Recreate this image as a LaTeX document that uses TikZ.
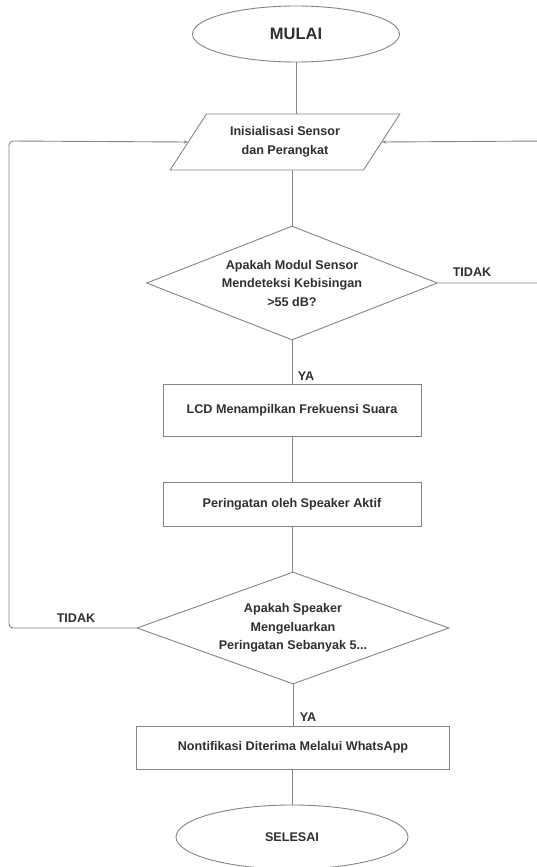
\documentclass[tikz,border=0pt]{standalone}
\usepackage{fontspec}
\setmainfont{Liberation Sans}
\usetikzlibrary{shapes.geometric,arrows.meta}
\definecolor{ln}{HTML}{858585}
\definecolor{tx}{HTML}{303030}
\begin{document}
\begin{tikzpicture}[x=1pt,y=-1pt,
  base/.style={draw=ln, line width=0.9pt, text=tx, inner sep=0pt, align=center,
    font=\bfseries\fontsize{12.6}{18.5}\selectfont},
  term/.style={base, ellipse, minimum width=#1, minimum height=56pt},
  io/.style={base, trapezium, trapezium left angle=50, trapezium right angle=130,
    trapezium stretches=true, minimum width=230pt, minimum height=56pt},
  proc/.style={base, rectangle, minimum width=#1},
  dec/.style={base, diamond, aspect=2.7, minimum width=#1, minimum height=114pt},
  lbl/.style={text=tx, inner sep=0pt, font=\bfseries\fontsize{12.6}{14}\selectfont},
  conn/.style={draw=ln, line width=0.9pt},
  arr/.style={conn, -{Stealth[length=4pt,width=3.5pt]}}
]
\useasboundingbox (0,0) rectangle (537,867);
\clip (0,0) rectangle (537,867);
\fill[white] (0,0) rectangle (537,867);

\node[term=207pt, font=\bfseries\fontsize{16.5}{18}\selectfont] (start) at (296,34) {MULAI};
\node[io] (init) at (285,142) {Inisialisasi Sensor\\dan Perangkat};
\node[dec=291pt] (d1) at (292,283) {Apakah Modul Sensor\\Mendeteksi Kebisingan\\>55 dB?};
\node[proc=258pt, minimum height=52pt] (lcd) at (292,410) {LCD Menampilkan Frekuensi Suara};
\node[proc=258pt, minimum height=44pt] (spk) at (292,504) {Peringatan oleh Speaker Aktif};
\node[dec=312pt, minimum height=112pt] (d2) at (293,628) {Apakah Speaker\\Mengeluarkan\\Peringatan Sebanyak 5...};
\node[proc=313pt, minimum height=43pt] (wa) at (293,747.5) {Nontifikasi Diterima Melalui WhatsApp};
\node[term=232pt, minimum height=64pt] (end) at (292,837) {SELESAI};

\node[lbl] (t1) at (472,272) {TIDAK};
\node[lbl] (y1) at (306,376) {YA};
\node[lbl] (t2) at (76,618) {TIDAK};
\node[lbl] (y2) at (308,717) {YA};

\coordinate (r1) at (545,283);
\coordinate (r2) at (545,141);
\coordinate (l1) at (9,628);
\coordinate (l2) at (9,141);

\draw[conn] (start.south) -- (start.south |- init.north);
\draw[conn] (init.south -| d1.north) -- (d1.north);
\draw[conn] (d1.south) -- (d1.south |- lcd.north);
\draw[conn] (lcd.south) -- (spk.north);
\draw[conn] (spk.south) -- (spk.south |- d2.north);
\draw[conn] (d2.south) -- (d2.south |- wa.north);
\draw[conn] (wa.south -| end.north) -- (end.north);
\draw[arr] (d1.east) -- (r1) -- (r2) -- (init.east);
\draw[arr, rounded corners=4pt] (d2.west) -- (l1) -- (l2) -- (init.west);
\end{tikzpicture}
\end{document}
